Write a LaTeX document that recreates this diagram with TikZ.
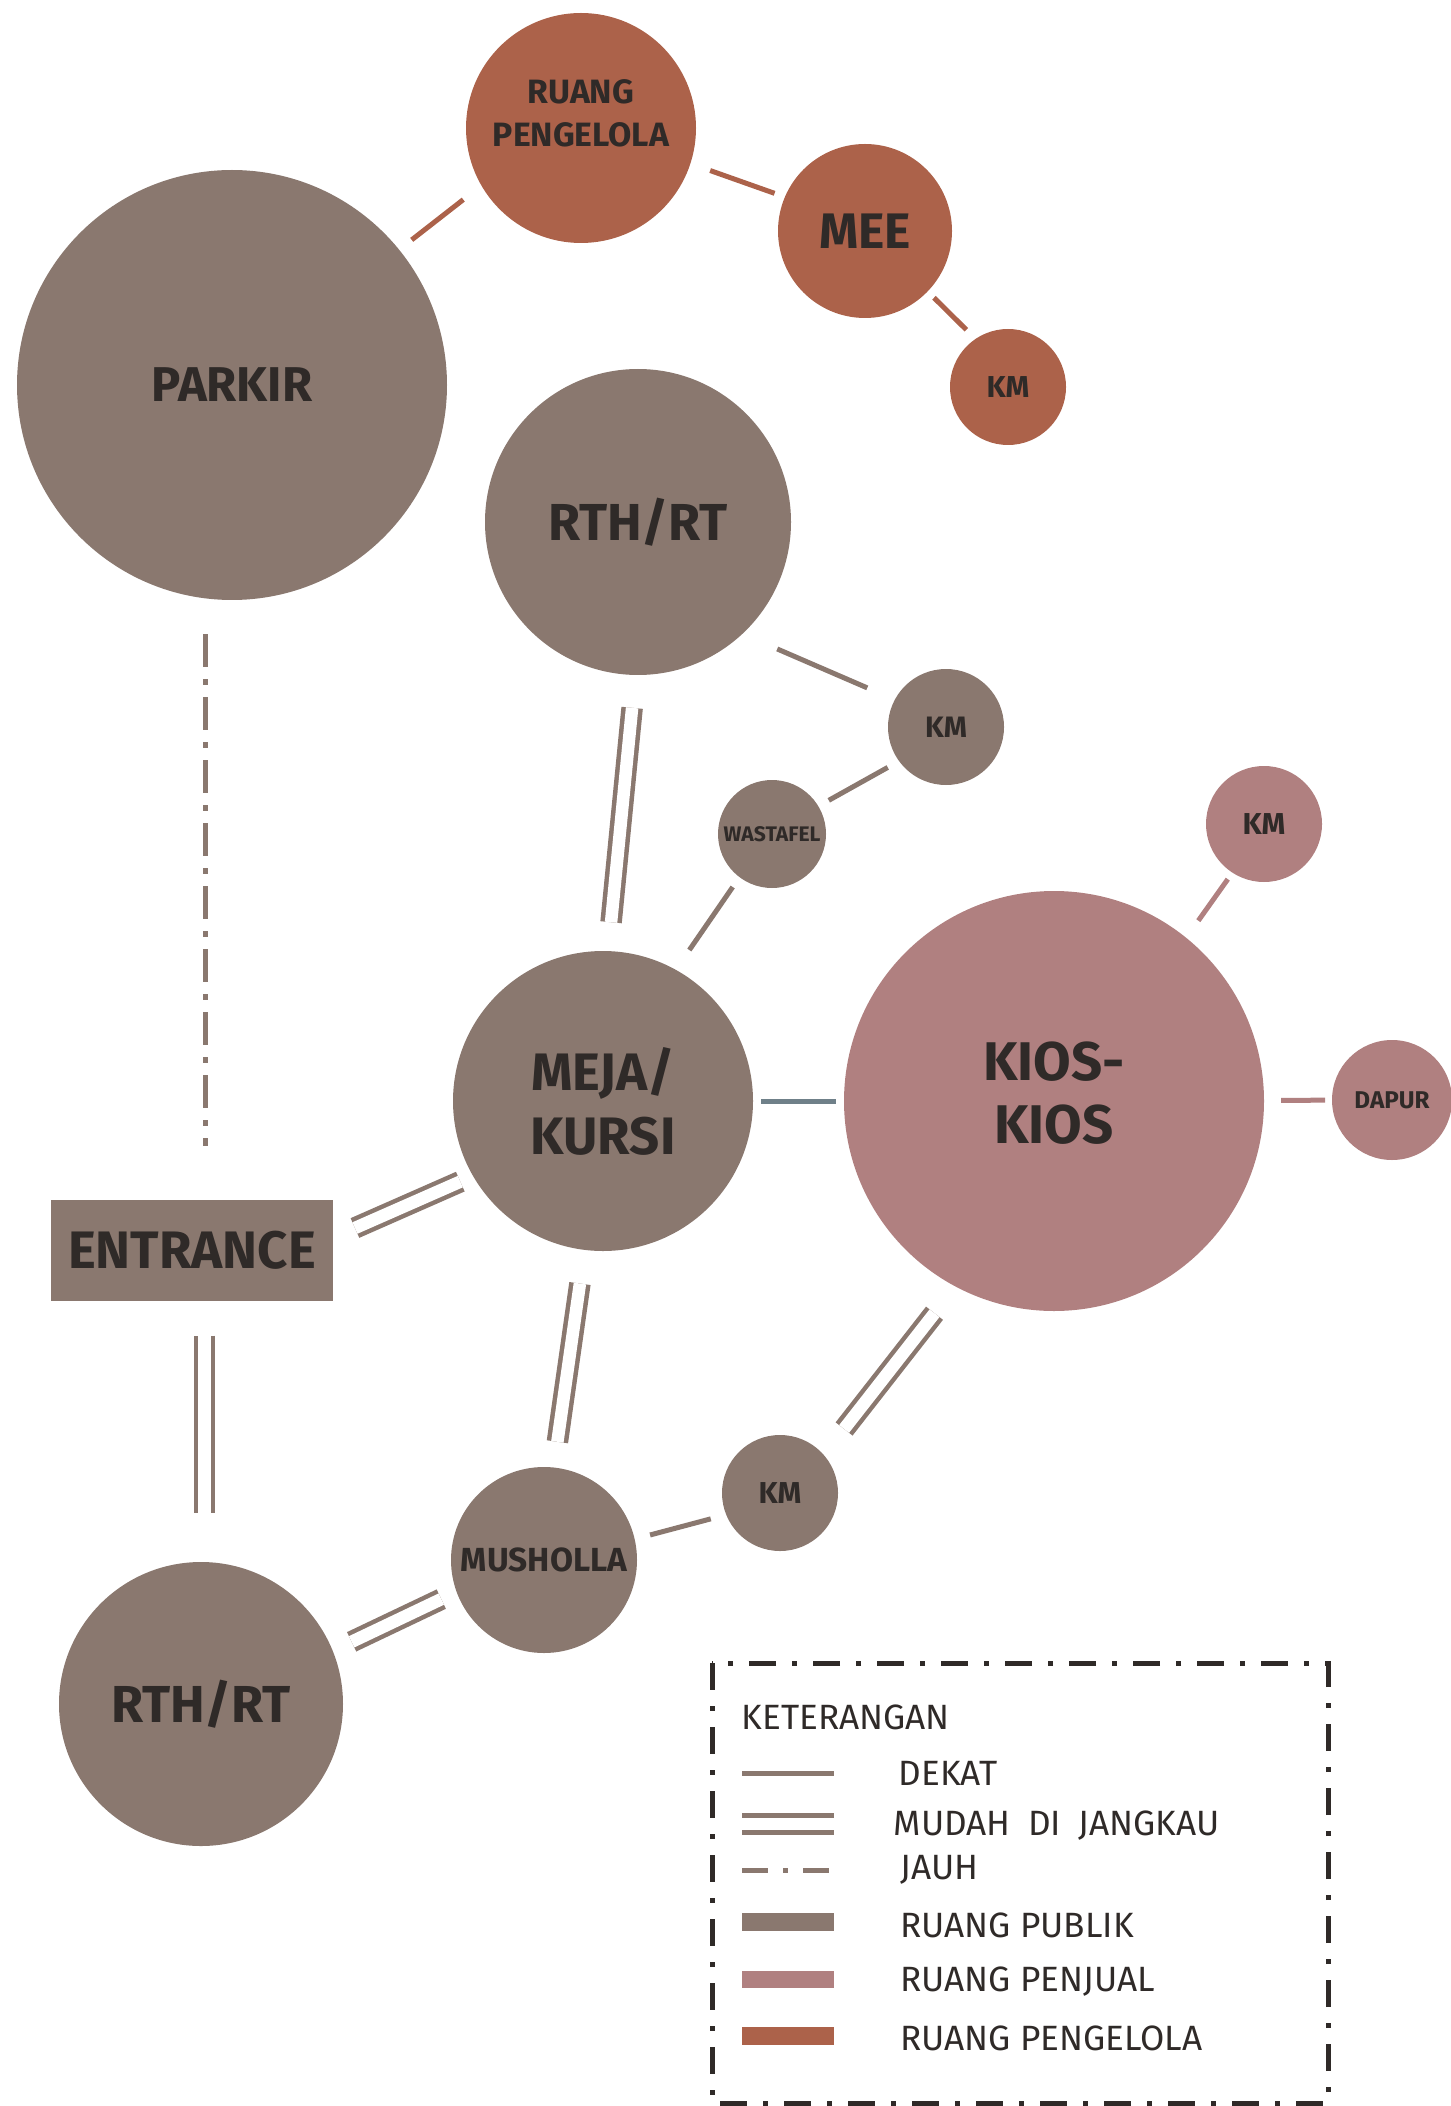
\documentclass[tikz,border=0pt]{standalone}
\usepackage{fontspec}
\setmainfont{Fira Sans}
\usetikzlibrary{calc}

\definecolor{publik}{HTML}{8A786F}
\definecolor{penjual}{HTML}{B08080}
\definecolor{pengelola}{HTML}{AC624A}
\definecolor{tinta}{HTML}{2F2A28}
\definecolor{kaca}{HTML}{6F8089}

\newcommand{\lbl}[2]{\fontsize{#1}{#2}\selectfont\bfseries}

\begin{document}
\begin{tikzpicture}[x=0.1mm,y=-0.1mm,
    room/.style={circle,fill=#1,inner sep=0pt,outer sep=0pt,text=tinta,align=center},
    dekat/.style={line width=0.5mm,draw=#1},
    mudah/.style={line width=0.45mm,draw=publik,double=white,double distance=1.25mm},
    jauh/.style={line width=0.5mm,draw=publik,dash pattern=on 3.3mm off 1.2mm on 0.6mm off 1.2mm},
    legend text/.style={anchor=west,inner sep=0pt,text=tinta,font=\fontsize{10}{12}\selectfont}]
    \useasboundingbox (0,0) rectangle (1450,2106);

    \node[room=publik, minimum size=43mm, font=\lbl{13.9}{16}] (parkir) at (232,385) {PARKIR};
    \node[room=pengelola, minimum size=23mm, text depth=3mm, font=\lbl{9.6}{12}] (kelola) at (581,128) {RUANG\\PENGELOLA};
    \node[room=pengelola, minimum size=17.4mm, font=\lbl{14.2}{16}] (mee) at (865,231) {MEE};
    \node[room=pengelola, minimum size=11.6mm, font=\lbl{8.6}{10}] (kmkelola) at (1008,387) {KM};
    \node[room=publik, minimum size=30.6mm, font=\lbl{14.8}{17}] (rthatas) at (638,522) {RTH/RT};
    \node[room=publik, minimum size=11.6mm, font=\lbl{8.4}{10}] (kmrth) at (946,727) {KM};
    \node[room=publik, minimum size=10.8mm, font=\lbl{6}{7}] (wastafel) at (772,834) {WASTAFEL};
    \node[room=penjual, minimum size=11.6mm, font=\lbl{8.6}{10}] (kmkios) at (1264,824) {KM};
    \node[room=penjual, minimum size=42mm, text depth=1.6mm, font=\lbl{15.5}{17.9}] (kios) at (1054,1101) {KIOS-\\KIOS};
    \node[room=penjual, minimum size=12mm, font=\lbl{6.9}{8}] (dapur) at (1392,1100) {DAPUR};
    \node[room=publik, minimum size=30mm, font=\lbl{15}{18.2}] (meja) at (603,1101) {MEJA/\\KURSI};
    \node[fill=publik, minimum width=28.2mm, minimum height=10.1mm, inner sep=0pt, outer sep=0pt,
      text=tinta, font=\lbl{15}{17}] (entrance) at (192,1250) {ENTRANCE};
    \node[room=publik, minimum size=11.6mm, font=\lbl{8.6}{10}] (kmmusholla) at (780,1493) {KM};
    \node[room=publik, minimum size=18.6mm, font=\lbl{9.5}{11}] (musholla) at (544,1560) {MUSHOLLA};
    \node[room=publik, minimum size=28.4mm, font=\lbl{14.8}{17}] (rthbawah) at (201,1704) {RTH/RT};

    % hubungan antar ruang
    \draw[dekat=pengelola, shorten <=1.6mm, shorten >=2.3mm] (parkir.39) -- (kelola.-150);
    \draw[dekat=pengelola, shorten <=2.1mm, shorten >=1.1mm] (kelola.-18) -- (mee.157);
    \draw[dekat=pengelola, shorten <=0.9mm, shorten >=1.3mm] (mee.-44) -- (kmkelola.124);
    \draw[jauh, shorten <=3.6mm, shorten >=5.4mm] (parkir.-97) -- (parkir.-97 |- entrance.north);
    \draw[dekat=publik, shorten <=3.8mm, shorten >=3mm] (rthatas.-47) -- (kmrth.152);
    \draw[dekat=publik, shorten <=1.3mm, shorten >=1.2mm] (kmrth.-144) -- (wastafel.31);
    \draw[dekat=publik, shorten <=1.2mm, shorten >=2.4mm] (wastafel.-127) -- (meja.61);
    \draw[mudah, shorten <=3.3mm, shorten >=2.9mm] (rthatas.-91) -- (meja.88);
    \draw[dekat=kaca, shorten <=0.8mm, shorten >=0.8mm] (meja) -- (kios);
    \draw[dekat=penjual, shorten <=2.1mm, shorten >=0.8mm] (kios.51) -- (kmkios.-123);
    \draw[dekat=penjual, shorten <=1.7mm, shorten >=0.7mm] (kios) -- (dapur);
    \draw[mudah, shorten <=2.4mm, shorten >=1.4mm] (entrance.5) -- (meja.-150);
    \draw[mudah, shorten <=3.4mm, shorten >=2.6mm] (meja.-97) -- (musholla.84);
    \draw[mudah, shorten <=3.5mm, shorten >=4.9mm] (entrance.-76) -- (entrance.-76 |- rthbawah.north);
    \draw[mudah, shorten <=1.7mm, shorten >=2.1mm] (musholla.-160) -- (rthbawah.22);
    \draw[dekat=publik, shorten <=1.6mm, shorten >=1.6mm] (musholla.13) -- (kmmusholla.-158);
    \draw[mudah, shorten <=3.4mm, shorten >=3.3mm] (kios.-118) -- (kmmusholla.41);

    % keterangan
    \draw[line width=0.5mm, draw=tinta, dash pattern=on 2.7mm off 1.6mm on 0.5mm off 1.6mm]
      (712,1663) rectangle (1328,2103);
    \node[legend text] (keterangan) at (741,1717) {KETERANGAN};
    \draw[dekat=publik] (742,1773) -- (834,1773);
    \draw[mudah] (742,1824) -- (834,1824);
    \draw[jauh, dash pattern=on 2.6mm off 1.5mm on 0.5mm off 1.5mm] (742,1870) -- (834,1870);
    \fill[publik] (742,1913) rectangle (834,1931);
    \fill[penjual] (742,1971) rectangle (834,1988);
    \fill[pengelola] (742,2027) rectangle (834,2045);
    \node[legend text] (ldekat) at (898,1773) {DEKAT};
    \node[legend text] (lmudah) at (893,1826) {MUDAH\hspace{0.5em}DI\hspace{0.5em}JANGKAU};
    \node[legend text] (ljauh) at (900,1870) {JAUH};
    \node[legend text] (lpublik) at (900,1925) {RUANG PUBLIK};
    \node[legend text] (lpenjual) at (900,1982) {RUANG PENJUAL};
    \node[legend text] (lpengelola) at (900,2038) {RUANG PENGELOLA};
  \end{tikzpicture}
\end{document}
